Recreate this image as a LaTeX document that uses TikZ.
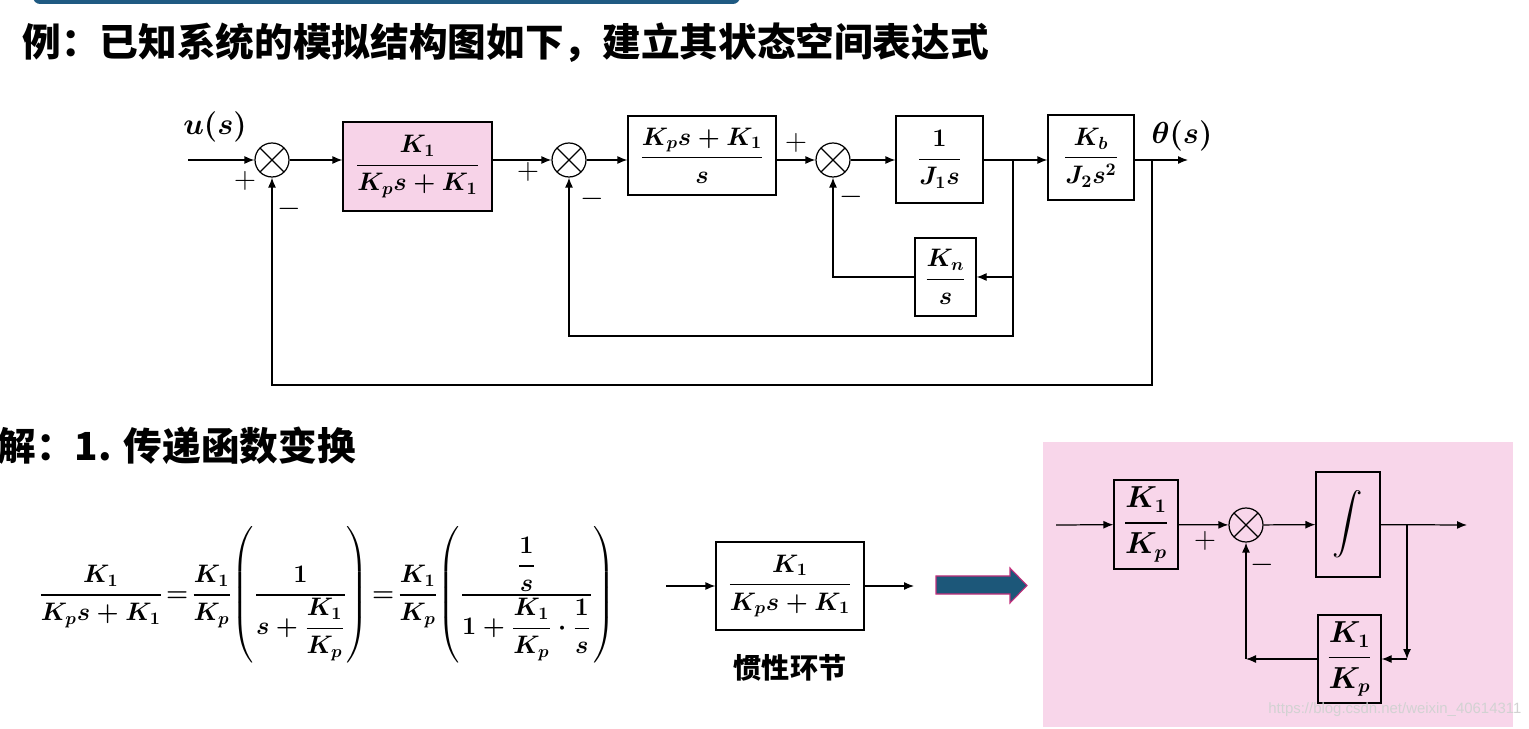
\documentclass[tikz,border=0pt]{standalone}
\usepackage{amsmath}
\usepackage{fontspec}
\newfontfamily\cjk{Noto Sans CJK SC}
\setsansfont{Liberation Sans}
\usetikzlibrary{positioning, arrows.meta}
\definecolor{boxpink}{HTML}{F7D3E8}
\definecolor{panelpink}{HTML}{F8D6EA}
\definecolor{barblue}{HTML}{1F5A82}
\definecolor{arrowblue}{HTML}{1C5779}
\definecolor{arrowrim}{HTML}{C2307C}

\begin{document}
\begin{tikzpicture}[-{Latex[length=2mm, width=1.6mm]}, line width=0.7pt, x=0.02cm, y=-0.02cm,
block/.style = {draw, inner sep=0pt, font=\fontsize{14.5}{17}\selectfont\boldmath},
sumpt/.style = {circle, draw, minimum size=0.68cm, inner sep=0pt,
  path picture = {\draw[-] (path picture bounding box.north west) -- (path picture bounding box.south east)
  (path picture bounding box.north east) -- (path picture bounding box.south west);}},
sign/.style = {inner sep=0pt, font=\fontsize{17}{19}\selectfont},
lab/.style = {inner sep=0pt, font=\fontsize{16}{18}\selectfont\boldmath},
heading/.style = {anchor=west, inner sep=0pt, font=\cjk\bfseries\fontsize{22}{24}\selectfont}]
\useasboundingbox (0,0) rectangle (1529,729);

% header
\fill[-, barblue, rounded corners=4] (33,-8) rectangle (740,4);
\node[heading] (title) at (22,43) {例：已知系统的模拟结构图如下，建立其状态空间表达式};

% original block diagram
\node[sumpt] (s1) at (272,160) {};
\node[block, fill=boxpink, minimum width=2.98cm, minimum height=1.78cm] (g1) at (417.5,166.5) {$\dfrac{K_1}{K_ps+K_1}$};
\node[sumpt] (s2) at (569,160) {};
\node[block, minimum width=2.96cm, minimum height=1.58cm] (g2) at (702,155.5) {$\dfrac{K_ps+K_1}{s}$};
\node[sumpt] (s3) at (833,160) {};
\node[block, minimum width=1.74cm, minimum height=1.74cm] (g3) at (939.5,159.5) {$\dfrac{1}{J_1s}$};
\node[block, minimum width=1.72cm, minimum height=1.70cm] (g4) at (1091,157.5) {$\dfrac{K_b}{J_2s^2}$};
\node[block, minimum width=1.22cm, minimum height=1.56cm] (g5) at (945.5,277) {$\dfrac{K_n}{s}$};
\coordinate (in) at (188,160);
\coordinate (out) at (1188,160);
\coordinate (b1) at (1013,160);
\coordinate (b2) at (1152,160);
\node[lab] (ulab) at (215,127) {$u(s)$};
\node[lab] (thlab) at (1182,136) {$\theta(s)$};

\draw (in) -- (s1);
\draw (s1) -- (s1 -| g1.west);
\draw (s2 -| g1.east) -- (s2);
\draw (s2) -- (s2 -| g2.west);
\draw (s3 -| g2.east) -- (s3);
\draw (s3) -- (s3 -| g3.west);
\draw (b1 -| g3.east) -- (b1 -| g4.west);
\draw (b2 -| g4.east) -- (out);
\draw (g5.east -| b1) -- (g5.east);
\draw (g5.west) -| (s3.south);
\draw (b1) -- (1013,336) -| (s2.south);
\draw (b2) -- (1152,385) -| (s1.south);

\node[sign] at (245,181) {$+$};
\node[sign] at (289,209) {$-$};
\node[sign] at (528,172) {$+$};
\node[sign] at (592,199) {$-$};
\node[sign] at (796,143) {$+$};
\node[sign] at (851,197) {$-$};

% solution
\node[heading] (sol) at (-3,446) {解：1. 传递函数变换};
\node[inner sep=0pt, font=\fontsize{14.5}{18}\selectfont\boldmath] (eq) at (327,595)
  {$\dfrac{K_1}{K_ps+K_1}\!=\!\dfrac{K_1}{K_p}\!\left(\dfrac{1}{s+\dfrac{K_1}{K_p}}\right)\!=\!\dfrac{K_1}{K_p}\!\left(\dfrac{\dfrac{1}{s}}{1+\dfrac{K_1}{K_p}\cdot\dfrac{1}{s}}\right)$};

\node[block, minimum width=2.96cm, minimum height=1.76cm] (g6) at (790,586) {$\dfrac{K_1}{K_ps+K_1}$};
\coordinate (in6) at (666,586);
\coordinate (out6) at (914,586);
\draw (in6) -- (g6);
\draw (g6) -- (out6);
\node[inner sep=0pt, font=\cjk\bfseries\fontsize{16}{18}\selectfont] (inert) at (790,668) {惯性环节};

\fill[-, arrowblue, draw=arrowrim, line width=0.6pt] (936,576) -- (1010,576) -- (1010,568) -- (1027,585.5)
  -- (1010,603) -- (1010,594) -- (936,594) -- cycle;

% equivalent loop
\fill[-, panelpink] (1043,442) rectangle (1513,727);
\node[block, minimum width=1.28cm, minimum height=1.78cm, font=\fontsize{16}{18}\selectfont\boldmath] (h1) at (1146,524.5) {$\dfrac{K_1}{K_p}$};
\node[sumpt] (s4) at (1246,525) {};
\node[block, minimum width=1.28cm, minimum height=2.10cm, font=\fontsize{16}{18}\selectfont] (h2) at (1348,524.5) {$\displaystyle\int$};
\node[block, minimum width=1.26cm, minimum height=1.76cm, font=\fontsize{16}{18}\selectfont\boldmath] (h3) at (1349.5,659) {$\dfrac{K_1}{K_p}$};
\coordinate (in4) at (1056,525);
\coordinate (out4) at (1467,525);
\coordinate (b3) at (1407,525);
\coordinate (c3) at (1407,659);
\coordinate (c4) at (1246,659);

\draw (in4) -- (h1);
\draw (h1) -- (s4);
\draw (s4) -- (h2);
\draw (h2) -- (out4);
\draw (b3) -- (c3);
\draw (c3) -- (h3.east);
\draw (h3.west) -- (c4);
\draw (c4) -- (s4.south);
\node[sign] at (1205,541) {$+$};
\node[sign] at (1262,565) {$-$};

\node[anchor=east, inner sep=0pt, text=gray!35, font=\sffamily\fontsize{8.5}{10}\selectfont] (mark) at (1522,710) {https://blog.csdn.net/weixin\_40614311};
\end{tikzpicture}
\end{document}
